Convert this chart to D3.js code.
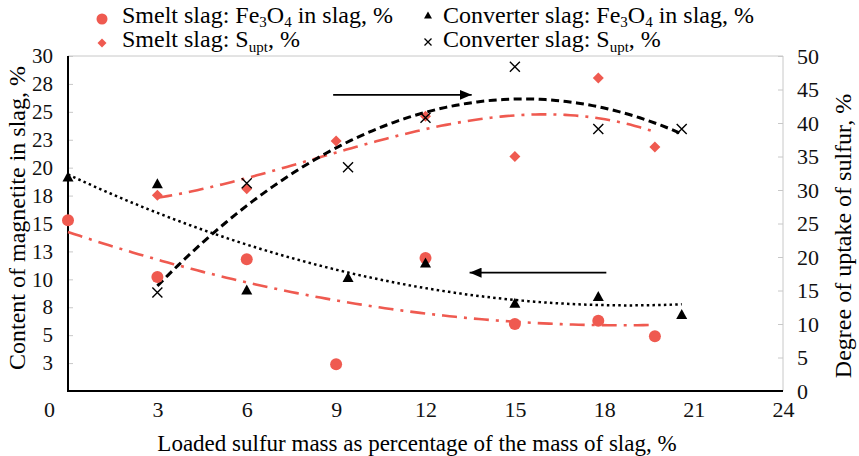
<!DOCTYPE html>
<html>
<head>
<meta charset="utf-8">
<script src="https://cdn.jsdelivr.net/npm/d3@7"></script>
<style>
  html, body { margin: 0; padding: 0; background: #fff; }
</style>
</head>
<body>
<div id="chart"></div>
<script>
// values
const smeltX = [0, 3, 6, 9, 12, 15, 17.8, 19.7];
const smeltFe3O4 = [15.3, 10.2, 11.8, 2.4, 11.9, 6.0, 6.3, 4.9];
const smeltSuptX = [3, 6, 9, 12, 15, 17.8, 19.7];
const smeltSupt = [29.2, 30.2, 37.3, 41.0, 35.0, 46.7, 36.4];

const convX = [0, 3, 6, 9.4, 12, 15, 17.8, 20.6];
const convFe3O4 = [19.2, 18.6, 9.1, 10.2, 11.5, 7.9, 8.5, 6.9];
const convSuptX = [3, 6, 9.4, 12, 15, 17.8, 20.6];
const convSupt = [14.7, 31.0, 33.4, 40.8, 48.4, 39.1, 39.1];

const xTicks = [0, 3, 6, 9, 12, 15, 18, 21, 24];
const leftTicks = [2.5, 5, 7.5, 10, 12.5, 15, 17.5, 20, 22.5, 25, 27.5, 30];
const rightTicks = [0, 5, 10, 15, 20, 25, 30, 35, 40, 45, 50];

// annotation arrows, in data units
const arrows = [
    { from: 8.9, to: 13.55, y: 44.2, axis: "right" },
    { from: 18.07, to: 13.48, y: 10.6, axis: "left" }
];

const RED = "#ef5a50";
const FONT = "'Liberation Serif', 'Times New Roman', Times, serif";
const width = 859, height = 456;
const plotLeft = 68, plotRight = 783, plotTop = 56, plotBottom = 391;

const svg = d3.select("#chart").append("svg")
    .attr("width", width)
    .attr("height", height)
    .style("display", "block")
    .attr("font-family", FONT);

const x = d3.scaleLinear().domain([0, 24]).range([plotLeft, plotRight]);
const yL = d3.scaleLinear().domain([0, 30]).range([plotBottom, plotTop]);
const yR = d3.scaleLinear().domain([0, 50]).range([plotBottom, plotTop]);

// least squares polynomial fit (what the spreadsheet trendline does)
function polyfit(xs, ys, deg) {
    const n = deg + 1;
    const A = [];
    for (let i = 0; i < n; i++) {
        A.push(new Array(n + 1).fill(0));
        for (let j = 0; j < n; j++) {
            A[i][j] = d3.sum(xs, v => Math.pow(v, i + j));
        }
        A[i][n] = d3.sum(xs, (v, k) => Math.pow(v, i) * ys[k]);
    }
    for (let c = 0; c < n; c++) {
        let p = c;
        for (let r = c + 1; r < n; r++) if (Math.abs(A[r][c]) > Math.abs(A[p][c])) p = r;
        [A[c], A[p]] = [A[p], A[c]];
        for (let r = 0; r < n; r++) {
            if (r === c) continue;
            const f = A[r][c] / A[c][c];
            for (let k = c; k <= n; k++) A[r][k] -= f * A[c][k];
        }
    }
    const coef = A.map((row, i) => row[n] / row[i]);
    return v => coef.reduce((s, a, i) => s + a * Math.pow(v, i), 0);
}

function trend(xs, ys, yScale, order, style) {
    const f = polyfit(xs, ys, order);
    const lo = d3.min(xs), hi = d3.max(xs);
    const pts = d3.range(0, 101).map(i => lo + (hi - lo) * i / 100);
    svg.append("path")
        .attr("d", d3.line().x(v => x(v)).y(v => yScale(f(v)))(pts))
        .attr("fill", "none")
        .attr("stroke", style.color)
        .attr("stroke-width", style.w)
        .attr("stroke-dasharray", style.dash);
}

// frame
svg.append("line").attr("x1", plotLeft).attr("x2", plotRight).attr("y1", plotTop).attr("y2", plotTop)
    .attr("stroke", "#c8c8c8").attr("stroke-width", 1);
svg.append("line").attr("x1", plotRight).attr("x2", plotRight).attr("y1", plotTop).attr("y2", plotBottom)
    .attr("stroke", "#c8c8c8").attr("stroke-width", 1);

// axes
const gL = svg.append("g").attr("transform", `translate(${plotLeft},0)`)
    .call(d3.axisLeft(yL).tickValues(leftTicks).tickFormat(d => Math.round(d))
        .tickSizeInner(-5).tickSizeOuter(0).tickPadding(15));
const gR = svg.append("g").attr("transform", `translate(${plotRight},0)`)
    .call(d3.axisRight(yR).tickValues(rightTicks).tickSizeInner(-5).tickSizeOuter(0).tickPadding(14));
const gB = svg.append("g").attr("transform", `translate(0,${plotBottom})`)
    .call(d3.axisBottom(x).tickValues(xTicks).tickSize(0).tickPadding(10));

[gL, gR, gB].forEach(g => {
    g.attr("font-family", FONT);
    g.select(".domain").remove();
    g.selectAll(".tick line").attr("stroke", "#c8c8c8");
    g.selectAll("text").attr("fill", "#111");
});
gL.attr("font-size", 21);
gR.attr("font-size", 22);
gB.attr("font-size", 22);
gB.selectAll(".tick").filter(d => d === 0).select("text").attr("dx", -19);

svg.append("line").attr("x1", plotLeft).attr("x2", plotLeft).attr("y1", plotTop).attr("y2", plotBottom + 1)
    .attr("stroke", "#000").attr("stroke-width", 2);
svg.append("line").attr("x1", plotLeft - 1).attr("x2", plotRight).attr("y1", plotBottom).attr("y2", plotBottom)
    .attr("stroke", "#000").attr("stroke-width", 2);

// axis titles
svg.append("text")
    .attr("transform", `translate(25,218) rotate(-90)`)
    .attr("text-anchor", "middle")
    .attr("font-size", 24)
    .text("Content of magnetite in slag, %");
svg.append("text")
    .attr("transform", `translate(851,236) rotate(-90)`)
    .attr("text-anchor", "middle")
    .attr("font-size", 24)
    .text("Degree of uptake of sulfur, %");
svg.append("text")
    .attr("x", 417).attr("y", 451)
    .attr("text-anchor", "middle")
    .attr("font-size", 23)
    .text("Loaded sulfur mass as percentage of the mass of slag, %");

// trendlines
trend(smeltX, smeltFe3O4, yL, 2, { color: RED, w: 2.6, dash: "15,7,3,7" });
trend(smeltSuptX, smeltSupt, yR, 3, { color: RED, w: 2.6, dash: "15,7,3,7" });
trend(convX, convFe3O4, yL, 2, { color: "#000", w: 2.5, dash: "2.5,3.2" });
trend(convSuptX, convSupt, yR, 3, { color: "#000", w: 3, dash: "8,4.5" });

// markers
const tri = (w, h) => `M0,${-h / 2}L${w / 2},${h / 2}L${-w / 2},${h / 2}Z`;
const dia = s => `M0,${-s}L${s},0L0,${s}L${-s},0Z`;
const cross = s => `M${-s},${-s}L${s},${s}M${s},${-s}L${-s},${s}`;

svg.append("g").selectAll("circle")
    .data(smeltX.map((v, i) => [v, smeltFe3O4[i]]))
    .join("circle")
    .attr("cx", d => x(d[0])).attr("cy", d => yL(d[1]))
    .attr("r", 6).attr("fill", RED);

svg.append("g").selectAll("path")
    .data(smeltSuptX.map((v, i) => [v, smeltSupt[i]]))
    .join("path")
    .attr("transform", d => `translate(${x(d[0])},${yR(d[1])})`)
    .attr("d", dia(5.5)).attr("fill", RED);

svg.append("g").selectAll("path")
    .data(convX.map((v, i) => [v, convFe3O4[i]]))
    .join("path")
    .attr("transform", d => `translate(${x(d[0])},${yL(d[1])})`)
    .attr("d", tri(11, 10)).attr("fill", "#000");

svg.append("g").selectAll("path")
    .data(convSuptX.map((v, i) => [v, convSupt[i]]))
    .join("path")
    .attr("transform", d => `translate(${x(d[0])},${yR(d[1])})`)
    .attr("d", cross(5)).attr("fill", "none").attr("stroke", "#000").attr("stroke-width", 1.4);

// arrows
svg.append("defs").append("marker")
    .attr("id", "head")
    .attr("viewBox", "0 0 12 10")
    .attr("refX", 12).attr("refY", 5)
    .attr("markerWidth", 12).attr("markerHeight", 10)
    .attr("markerUnits", "userSpaceOnUse")
    .attr("orient", "auto")
    .append("path").attr("d", "M0,0L12,5L0,10Z").attr("fill", "#000");

arrows.forEach(a => {
    const ys = a.axis === "left" ? yL : yR;
    svg.append("line")
        .attr("x1", x(a.from)).attr("x2", x(a.to))
        .attr("y1", ys(a.y)).attr("y2", ys(a.y))
        .attr("stroke", "#000").attr("stroke-width", 1.6)
        .attr("marker-end", "url(#head)");
});

// legend
const legend = [
    { col: 0, row: 0, sym: "circle", name: "Smelt slag: ", sub: "Fe3O4" },
    { col: 0, row: 1, sym: "diamond", name: "Smelt slag: ", sub: "Supt" },
    { col: 1, row: 0, sym: "triangle", name: "Converter slag: ", sub: "Fe3O4" },
    { col: 1, row: 1, sym: "cross", name: "Converter slag: ", sub: "Supt" }
];
const colX = [102, 428], rowY = [23, 47];

legend.forEach(l => {
    const g = svg.append("g").attr("transform", `translate(${colX[l.col]},${rowY[l.row]})`);
    if (l.sym === "circle") g.append("circle").attr("cy", -4).attr("r", 5.5).attr("fill", RED);
    if (l.sym === "diamond") g.append("path").attr("transform", "translate(0,-4)").attr("d", dia(4.5)).attr("fill", RED);
    if (l.sym === "triangle") g.append("path").attr("transform", "translate(0,-8)").attr("d", tri(8, 7)).attr("fill", "#000");
    if (l.sym === "cross") g.append("path").attr("transform", "translate(0,-5)").attr("d", cross(3.5)).attr("stroke", "#000").attr("stroke-width", 1.3);

    const t = svg.append("text")
        .attr("x", colX[l.col] + (l.col === 0 ? 20 : 15)).attr("y", rowY[l.row])
        .attr("font-size", 24);
    t.append("tspan").text(l.name);
    if (l.sub === "Fe3O4") {
        t.append("tspan").text("Fe");
        t.append("tspan").text("3").attr("dy", 4).attr("font-size", 15);
        t.append("tspan").text("O").attr("dy", -4);
        t.append("tspan").text("4").attr("dy", 4).attr("font-size", 15);
        t.append("tspan").text(" in slag, %").attr("dy", -4);
    } else {
        t.append("tspan").text("S");
        t.append("tspan").text("upt").attr("dy", 5).attr("font-size", 15);
        t.append("tspan").text(", %").attr("dy", -5);
    }
});
</script>
</body>
</html>
